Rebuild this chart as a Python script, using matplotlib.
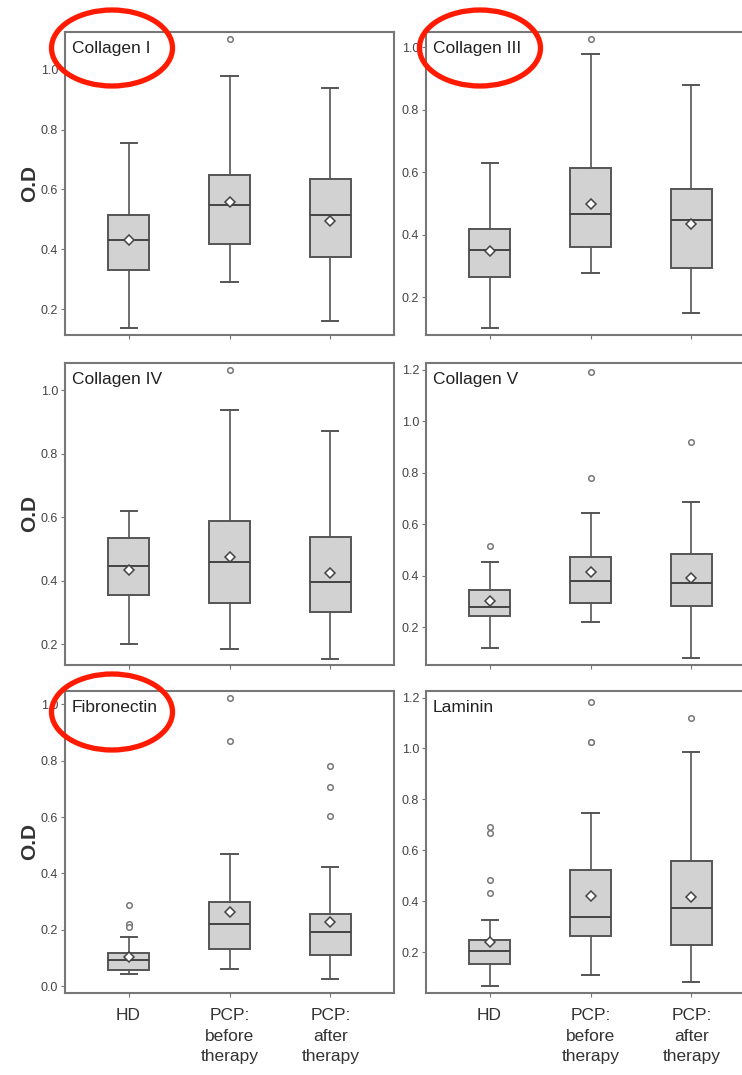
import matplotlib.pyplot as plt
from matplotlib.patches import Ellipse

plt.rcParams['font.family'] = ['Liberation Sans', 'DejaVu Sans']

# данные
panels = ["Collagen I", "Collagen III", "Collagen IV", "Collagen V", "Fibronectin", "Laminin"]
groups = ["HD", "PCP:\nbefore\ntherapy", "PCP:\nafter\ntherapy"]

whislo = [[0.136, 0.289, 0.160], [0.100, 0.276, 0.150], [0.200, 0.184, 0.154],
          [0.120, 0.219, 0.081], [0.042, 0.061, 0.025], [0.065, 0.108, 0.082]]
q1 = [[0.329, 0.417, 0.373], [0.263, 0.359, 0.294], [0.355, 0.328, 0.302],
      [0.245, 0.293, 0.283], [0.059, 0.132, 0.112], [0.154, 0.265, 0.226]]
med = [[0.432, 0.549, 0.515], [0.352, 0.467, 0.446], [0.446, 0.459, 0.397],
       [0.280, 0.381, 0.373], [0.093, 0.221, 0.191], [0.203, 0.336, 0.375]]
q3 = [[0.513, 0.647, 0.635], [0.418, 0.614, 0.547], [0.534, 0.587, 0.537],
      [0.347, 0.474, 0.484], [0.117, 0.299, 0.257], [0.247, 0.521, 0.556]]
whishi = [[0.755, 0.979, 0.940], [0.630, 0.979, 0.877], [0.620, 0.938, 0.872],
          [0.453, 0.644, 0.687], [0.176, 0.470, 0.424], [0.324, 0.746, 0.985]]
means = [[0.430, 0.558, 0.496], [0.348, 0.499, 0.433], [0.432, 0.476, 0.425],
         [0.303, 0.416, 0.390], [0.105, 0.265, 0.227], [0.239, 0.419, 0.415]]
fliers = [[[], [1.104], []],
          [[], [1.025], []],
          [[], [1.063], []],
          [[0.517], [1.191, 0.779], [0.920]],
          [[0.289, 0.221, 0.210], [1.022, 0.870], [0.781, 0.707, 0.602]],
          [[0.693, 0.667, 0.484, 0.434], [1.184, 1.025, 1.025], [1.121]]]

ylims = [(0.113, 1.127), (0.079, 1.048), (0.134, 1.086),
         (0.054, 1.226), (-0.024, 1.047), (0.039, 1.226)]
yticks = [[0.2, 0.4, 0.6, 0.8, 1.0], [0.2, 0.4, 0.6, 0.8, 1.0], [0.2, 0.4, 0.6, 0.8, 1.0],
          [0.2, 0.4, 0.6, 0.8, 1.0, 1.2], [0.0, 0.2, 0.4, 0.6, 0.8, 1.0],
          [0.2, 0.4, 0.6, 0.8, 1.0, 1.2]]

W, H = 742, 1075
fig = plt.figure(figsize=(W / 100, H / 100), dpi=100)

# положения осей в пикселях (левый край, верх, правый край, низ)
cols = [(65, 394), (426, 755)]
rows = [(32, 335), (363, 665), (691, 993)]

edge = '#555555'
for i, name in enumerate(panels):
    r, c = divmod(i, 2)
    x0, x1 = cols[c]
    top, bot = rows[r]
    ax = fig.add_axes([x0 / W, 1 - bot / H, (x1 - x0) / W, (bot - top) / H])

    stats = []
    for j in range(3):
        stats.append(dict(whislo=whislo[i][j], q1=q1[i][j], med=med[i][j],
                          q3=q3[i][j], whishi=whishi[i][j], mean=means[i][j],
                          fliers=fliers[i][j]))
    ax.bxp(stats, positions=[1, 2, 3], widths=0.4, capwidths=0.16,
           showmeans=True, patch_artist=True,
           boxprops=dict(facecolor='#d2d2d2', edgecolor=edge, linewidth=1.4),
           medianprops=dict(color='#444444', linewidth=1.4),
           whiskerprops=dict(color=edge, linewidth=1.2),
           capprops=dict(color=edge, linewidth=1.4),
           meanprops=dict(marker='D', markerfacecolor='white',
                          markeredgecolor='#444444', markersize=5, markeredgewidth=1.1),
           flierprops=dict(marker='o', markerfacecolor='white',
                           markeredgecolor='#777777', markersize=4, markeredgewidth=1.1))

    ax.set_xlim(0.37, 3.63)
    ax.set_ylim(*ylims[i])
    ax.set_yticks(yticks[i])
    ax.set_yticklabels([f'{v:.1f}' for v in yticks[i]], fontsize=9, color='#444444')
    ax.set_xticks([1, 2, 3])
    if r == 2:
        ax.set_xticklabels(groups, fontsize=12.5, color='#333333', linespacing=1.45)
    else:
        ax.set_xticklabels([])
    ax.tick_params(axis='both', length=3, width=0.8, color='#777777', pad=2)
    ax.tick_params(axis='x', pad=8)
    for s in ax.spines.values():
        s.set_color('#777777')
        s.set_linewidth(1.5)

    ax.text(0.02, 0.97, name, transform=ax.transAxes, ha='left', va='top',
            fontsize=12.5, color='#222222')
    if c == 0:
        ax.set_ylabel('O.D', fontsize=15, fontweight='bold', color='#333333', labelpad=1)

# красные овалы поверх подписей
for cx, cy in [(112, 48), (480, 48), (112, 712)]:
    e = Ellipse((cx / W, 1 - cy / H), 121 / W, 76 / H, transform=fig.transFigure,
                fill=False, edgecolor='#ff1a00', linewidth=3.8)
    fig.patches.append(e)

fig.savefig('out.png', dpi=100)
